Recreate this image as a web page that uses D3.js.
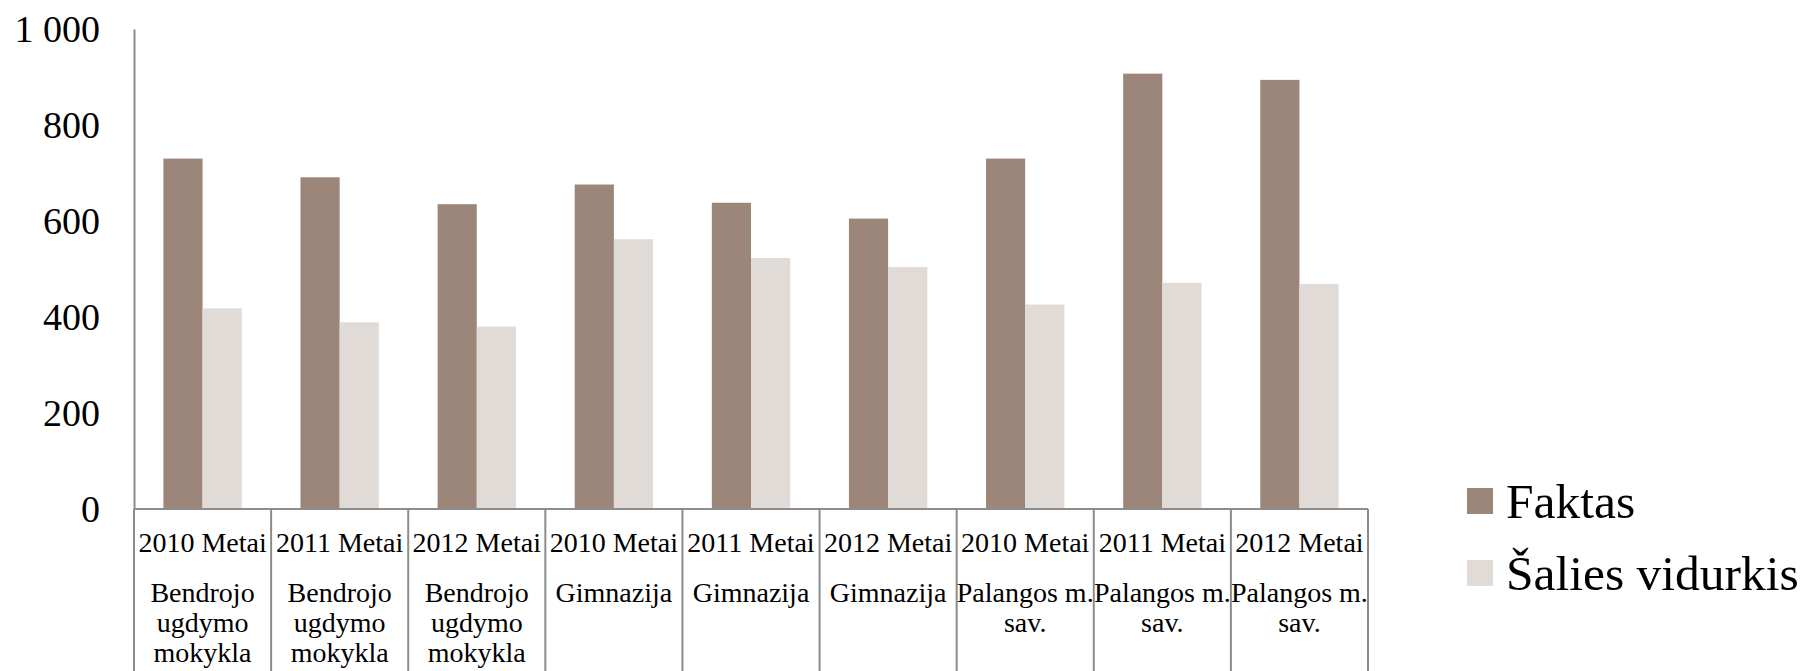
<!DOCTYPE html>
<html>
<head>
<meta charset="utf-8">
<script src="https://cdn.jsdelivr.net/npm/d3@7"></script>
<style>
  body { margin: 0; background: #fff; }
  text { font-family: "Liberation Serif", "DejaVu Serif", serif; fill: #000; }
</style>
</head>
<body>
<div id="chart"></div>
<script>
// data
var years = ["2010 Metai", "2011 Metai", "2012 Metai", "2010 Metai", "2011 Metai", "2012 Metai", "2010 Metai", "2011 Metai", "2012 Metai"];
var schools = ["Bendrojo ugdymo mokykla", "Bendrojo ugdymo mokykla", "Bendrojo ugdymo mokykla",
               "Gimnazija", "Gimnazija", "Gimnazija",
               "Palangos m. sav.", "Palangos m. sav.", "Palangos m. sav."];
var seriesNames = ["Faktas", "Šalies vidurkis"];
var faktas = [730, 691, 635, 676, 638, 605, 730, 907, 894];
var salies = [418, 389, 380, 562, 523, 504, 426, 471, 469];
var yTicks = [0, 200, 400, 600, 800, 1000];

var colors = { "Faktas": "#9c8679", "Šalies vidurkis": "#e0dbd7" };

//Global settings-------------------------------
var svgScreen = { width: 1806, height: 671 };
var plot = { left: 134, right: 1368, top: 29, bottom: 509 };

var svg = d3.select("#chart").append("svg")
  .attr("width", svgScreen.width)
  .attr("height", svgScreen.height);

var idx = d3.range(years.length);
var x0 = d3.scaleBand().domain(idx).range([plot.left, plot.right]).padding(0);
var W = x0.bandwidth();
// excel style: gap width 150%
var x1 = d3.scaleBand().domain(seriesNames)
  .range([W * 0.75 / 3.5, W * 2.75 / 3.5]).padding(0);
var y = d3.scaleLinear().domain([0, 1000]).range([plot.bottom, plot.top]);

var rows = idx.map(function(i){
  return { i: i, values: [ { s: "Faktas", v: faktas[i] }, { s: "Šalies vidurkis", v: salies[i] } ] };
});

// bars
var groups = svg.append("g").selectAll("g")
  .data(rows).enter().append("g")
  .attr("transform", function(d){ return "translate(" + x0(d.i) + ",0)"; });

groups.selectAll("rect")
  .data(function(d){ return d.values; })
  .enter().append("rect")
  .attr("x", function(d){ return x1(d.s); })
  .attr("width", x1.bandwidth())
  .attr("y", function(d){ return y(d.v); })
  .attr("height", function(d){ return y(0) - y(d.v); })
  .attr("fill", function(d){ return colors[d.s]; });

// y axis (no ticks, just labels)
var yAxis = d3.axisLeft(y).tickValues(yTicks).tickSize(0).tickPadding(34)
  .tickFormat(function(d){ return d3.format(",")(d).replace(",", " "); });
var gy = svg.append("g")
  .attr("transform", "translate(" + plot.left + ",0)")
  .call(yAxis);
gy.select(".domain").attr("stroke", "#8c8c8c").attr("stroke-width", 2);
gy.selectAll("text").attr("font-size", 38).attr("dy", "0.33em")
  .style("font-family", "Liberation Serif");

// x axis line
svg.append("line")
  .attr("x1", plot.left).attr("x2", plot.right)
  .attr("y1", y(0)).attr("y2", y(0))
  .attr("stroke", "#8c8c8c").attr("stroke-width", 2);

// category dividers
var bounds = idx.map(function(i){ return x0(i); }).concat([plot.right]);
svg.append("g").selectAll("line")
  .data(bounds).enter().append("line")
  .attr("x1", function(d){ return d; }).attr("x2", function(d){ return d; })
  .attr("y1", y(0)).attr("y2", svgScreen.height)
  .attr("stroke", "#8c8c8c").attr("stroke-width", 2);

// year labels
svg.append("g").selectAll("text")
  .data(idx).enter().append("text")
  .attr("x", function(i){ return x0(i) + W / 2; })
  .attr("y", 552)
  .attr("text-anchor", "middle")
  .attr("font-size", 28)
  .text(function(i){ return years[i]; });

// school labels, wrapped to the band width
var schoolText = svg.append("g").selectAll("text")
  .data(idx).enter().append("text")
  .attr("x", function(i){ return x0(i) + W / 2; })
  .attr("y", 602)
  .attr("text-anchor", "middle")
  .attr("font-size", 28);

schoolText.each(function(i){
  var t = d3.select(this);
  var words = schools[i].split(" ");
  var lines = [], line = [];
  var probe = t.append("tspan");
  words.forEach(function(w){
    var test = line.concat([w]).join(" ");
    probe.text(test);
    if (probe.node().getComputedTextLength() > W + 4 && line.length) {
      lines.push(line.join(" "));
      line = [w];
    } else {
      line.push(w);
    }
  });
  lines.push(line.join(" "));
  probe.remove();
  lines.forEach(function(l, k){
    t.append("tspan")
      .attr("x", x0(i) + W / 2)
      .attr("dy", k === 0 ? 0 : 30)
      .text(l);
  });
});

// legend
var legend = svg.append("g").selectAll("g")
  .data(seriesNames).enter().append("g")
  .attr("transform", function(d, k){ return "translate(1467," + (488 + k * 72) + ")"; });
legend.append("rect")
  .attr("width", 26).attr("height", 26)
  .attr("fill", function(d){ return colors[d]; });
legend.append("text")
  .attr("x", 39).attr("y", 30)
  .attr("font-size", 49.5)
  .text(function(d){ return d; });
</script>
</body>
</html>
